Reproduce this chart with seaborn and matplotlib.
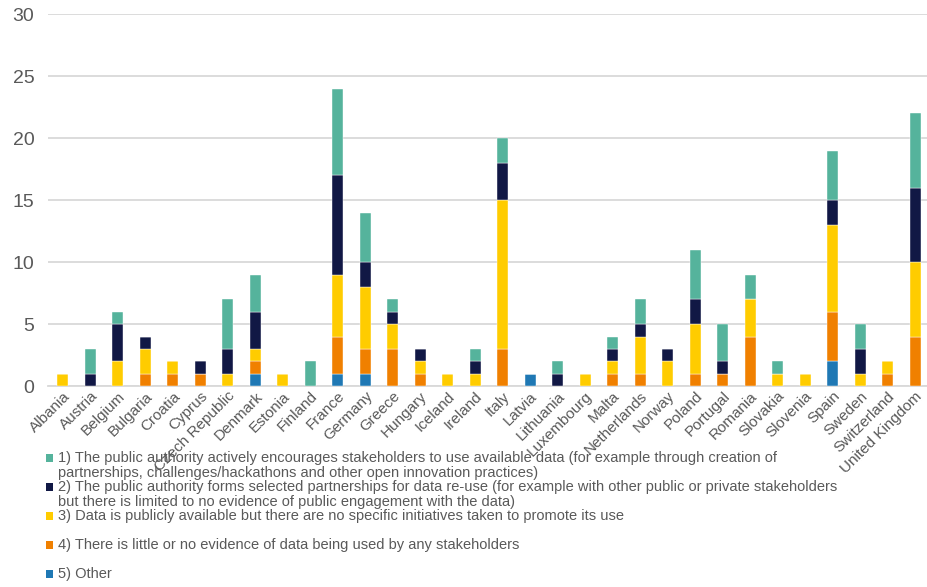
import matplotlib
matplotlib.use("Agg")
import matplotlib.pyplot as plt
import numpy as np
import seaborn as sns
from matplotlib.patches import Patch

# Countries and number of datasets per re-use category
countries = [
    "Albania", "Austria", "Belgium", "Bulgaria", "Croatia", "Cyprus",
    "Czech Republic", "Denmark", "Estonia", "Finland", "France", "Germany",
    "Greece", "Hungary", "Iceland", "Ireland", "Italy", "Latvia", "Lithuania",
    "Luxembourg", "Malta", "Netherlands", "Norway", "Poland", "Portugal",
    "Romania", "Slovakia", "Slovenia", "Spain", "Sweden", "Switzerland",
    "United Kingdom",
]
cat1 = [0, 2, 1, 0, 0, 0, 4, 3, 0, 2, 7, 4, 1, 0, 0, 1, 2, 0, 1, 0, 1, 2, 0, 4, 3, 2, 1, 0, 4, 2, 0, 6]
cat2 = [0, 1, 3, 1, 0, 1, 2, 3, 0, 0, 8, 2, 1, 1, 0, 1, 3, 0, 1, 0, 1, 1, 1, 2, 1, 0, 0, 0, 2, 2, 0, 6]
cat3 = [1, 0, 2, 2, 1, 0, 1, 1, 1, 0, 5, 5, 2, 1, 1, 1, 12, 0, 0, 1, 1, 3, 2, 4, 0, 3, 1, 1, 7, 1, 1, 6]
cat4 = [0, 0, 0, 1, 1, 1, 0, 1, 0, 0, 3, 2, 3, 1, 0, 0, 3, 0, 0, 0, 1, 1, 0, 1, 1, 4, 0, 0, 4, 0, 1, 4]
cat5 = [0, 0, 0, 0, 0, 0, 0, 1, 0, 0, 1, 1, 0, 0, 0, 0, 0, 1, 0, 0, 0, 0, 0, 0, 0, 0, 0, 0, 2, 0, 0, 0]

labels = [
    "1) The public authority actively encourages stakeholders to use available data (for example through creation of\n"
    "partnerships, challenges/hackathons and other open innovation practices)",
    "2) The public authority forms selected partnerships for data re-use (for example with other public or private stakeholders\n"
    "but there is limited to no evidence of public engagement with the data)",
    "3) Data is publicly available but there are no specific initiatives taken to promote its use",
    "4) There is little or no evidence of data being used by any stakeholders",
    "5) Other",
]
colors = ["#55B39C", "#111845", "#FFCC00", "#F08000", "#1F78B4"]

sns.set_style("white")
plt.rcParams["font.family"] = ["Liberation Sans", "DejaVu Sans"]

fig = plt.figure(figsize=(9.28, 5.87), dpi=100)
ax = fig.add_axes([0.052, 0.342, 0.948, 0.634])

# stack from category 5 at the bottom up to category 1 on top
series = [cat1, cat2, cat3, cat4, cat5]
bottom = np.zeros(len(countries))
for i in [4, 3, 2, 1, 0]:
    vals = np.array(series[i], dtype=float)
    sns.barplot(x=countries, y=vals, bottom=bottom, color=colors[i], width=0.4,
                saturation=1, edgecolor="white", linewidth=0.3, ax=ax, zorder=3)
    bottom += vals

ax.set_ylim(0, 30)
ax.set_xlim(-0.53, len(countries) - 0.53)
ax.set_yticks(range(0, 31, 5))
ax.yaxis.grid(True, color="#D9D9D9", linewidth=1.3, zorder=0)
for s in ["top", "right", "left"]:
    ax.spines[s].set_visible(False)
ax.spines["bottom"].set_color("#D9D9D9")
ax.spines["bottom"].set_linewidth(1.3)
ax.tick_params(axis="y", labelsize=14, labelcolor="#595959", length=0, pad=10)
ax.tick_params(axis="x", labelsize=11, labelcolor="#595959", length=0, pad=2)
plt.setp(ax.get_xticklabels(), rotation=45, ha="right", rotation_mode="anchor")
ax.set_xlabel("")
ax.set_ylabel("")

# legend: every entry gets the same slot, the marker sits on the first line
leg_labels = []
for lab in labels:
    lines = lab.split("\n")
    if len(lines) == 1:
        leg_labels.append("\n" + lab + "\n")
    else:
        leg_labels.append("\n" + lab)
leg_handles = [Patch(facecolor=c, edgecolor="none") for c in colors]
leg = fig.legend(leg_handles, leg_labels, loc="upper left", bbox_to_anchor=(0.0496, 0.2587),
                 frameon=False, fontsize=10.5, labelcolor="#595959",
                 handlelength=0.5, handleheight=0.5, handletextpad=0.3,
                 labelspacing=-1.12, borderaxespad=0, borderpad=0)
for t in leg.get_texts():
    t.set_linespacing(1.15)

fig.savefig("out.png", dpi=100)
